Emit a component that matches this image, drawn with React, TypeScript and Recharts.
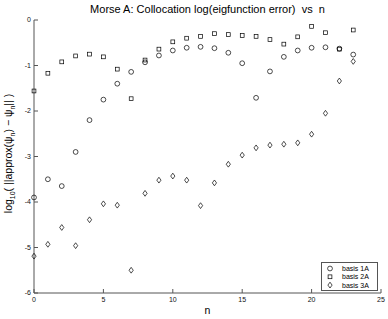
import React from "react";
import { ScatterChart, Scatter, XAxis, YAxis, Legend } from "recharts";

// n = 0..23
const nValues = [0, 1, 2, 3, 4, 5, 6, 7, 8, 9, 10, 11, 12, 13, 14, 15, 16, 17, 18, 19, 20, 21, 22, 23];

// log10 of eigenfunction error
const basis1A = [-3.9, -3.5, -3.65, -2.9, -2.2, -1.75, -1.4, -1.14, -0.93, -0.78, -0.67, -0.61, -0.59, -0.62, -0.72, -0.95, -1.71, -1.13, -0.81, -0.67, -0.61, -0.6, -0.63, -0.76];
const basis2A = [-1.56, -1.17, -0.92, -0.79, -0.75, -0.81, -1.08, -1.73, -0.88, -0.64, -0.48, -0.4, -0.36, -0.3, -0.32, -0.34, -0.36, -0.43, -0.53, -0.37, -0.14, -0.28, -0.64, -0.22];
const basis3A = [-5.19, -4.93, -4.56, -4.96, -4.39, -4.04, -4.07, -5.5, -3.81, -3.52, -3.43, -3.52, -4.08, -3.58, -3.17, -2.97, -2.81, -2.75, -2.73, -2.7, -2.51, -2.05, -1.34, -0.91];

const xTicks = [0, 5, 10, 15, 20, 25];
const yTicks = [-6, -5, -4, -3, -2, -1, 0];

const toPoints = (ys: number[]) => ys.map((v, i) => ({ n: nValues[i], err: v }));

const ink = "#000";
const axisColor = "#555";
const font = "'Liberation Sans', Arial, Helvetica, sans-serif";

const CircleMark = (p: any) => (
  <circle cx={p.cx} cy={p.cy} r={2.4} fill="none" stroke={ink} strokeWidth={0.7} />
);
const SquareMark = (p: any) => (
  <rect x={p.cx - 1.9} y={p.cy - 1.9} width={3.8} height={3.8} fill="none" stroke={ink} strokeWidth={0.7} />
);
const DiamondMark = (p: any) => (
  <path
    d={`M${p.cx},${p.cy - 2.9}L${p.cx + 2.1},${p.cy}L${p.cx},${p.cy + 2.9}L${p.cx - 2.1},${p.cy}Z`}
    fill="none"
    stroke={ink}
    strokeWidth={0.7}
  />
);

const series = [
  { name: "basis 1A", values: basis1A, Mark: CircleMark },
  { name: "basis 2A", values: basis2A, Mark: SquareMark },
  { name: "basis 3A", values: basis3A, Mark: DiamondMark },
];

function LegendBox() {
  return (
    <svg width={57} height={29} style={{ display: "block" }}>
      <rect x={0.5} y={0.5} width={56} height={28} fill="#fff" stroke={axisColor} strokeWidth={1} />
      {series.map((s, i) => {
        const cy = 6.5 + i * 8.3;
        return (
          <g key={s.name}>
            <s.Mark cx={9} cy={cy} />
            <text x={21} y={cy + 2.4} fontSize={7} fontFamily={font} fill={ink}>
              {s.name}
            </text>
          </g>
        );
      })}
    </svg>
  );
}

function YLabel(props: any) {
  const vb = props.viewBox || { x: 0, y: 20, width: 34, height: 273 };
  const cx = 12;
  const cy = vb.y + vb.height / 2 - 3;
  return (
    <text
      x={cx}
      y={cy}
      transform={`rotate(-90, ${cx}, ${cy})`}
      textAnchor="middle"
      fontSize={10.5}
      fontFamily={font}
      fill={ink}
      xmlSpace="preserve"
      style={{ whiteSpace: "pre" }}
    >
      log<tspan dy={3} fontSize={7}>10</tspan>
      <tspan dy={-3}>{"( ||approx(ψ"}</tspan>
      <tspan dy={3} fontSize={7}>n</tspan>
      <tspan dy={-3}>{") − ψ"}</tspan>
      <tspan dy={3} fontSize={7}>n</tspan>
      <tspan dy={-3}>{"|| )"}</tspan>
    </text>
  );
}

export default function App() {
  const tickStyle = { fontSize: 7, fontFamily: font, fill: "#111" };
  return (
    <div style={{ position: "absolute", left: 0, top: 0, width: 388, height: 319, background: "#fff" }}>
      <div
        style={{
          position: "absolute",
          left: 34,
          width: 347,
          top: 3,
          textAlign: "center",
          fontFamily: font,
          fontSize: 11,
          whiteSpace: "pre",
          color: ink,
        }}
      >
        Morse A: Collocation log(eigfunction error)  vs  n
      </div>
      <ScatterChart width={388} height={319} margin={{ top: 20, right: 7, bottom: 0, left: 0 }}>
        <XAxis
          type="number"
          dataKey="n"
          domain={[0, 25]}
          ticks={xTicks}
          interval={0}
          height={26}
          tickSize={-4}
          tickMargin={8}
          stroke={axisColor}
          tick={tickStyle}
          label={{ value: "n", position: "insideBottom", offset: 5, fontSize: 10.5, fontFamily: font, fill: ink }}
        />
        <XAxis
          xAxisId="top"
          orientation="top"
          type="number"
          domain={[0, 25]}
          ticks={xTicks}
          interval={0}
          height={0}
          tickSize={-4}
          tick={false}
          stroke={axisColor}
          allowDataOverflow
        />
        <YAxis
          type="number"
          dataKey="err"
          domain={[-6, 0]}
          ticks={yTicks}
          interval={0}
          width={34}
          tickSize={-4}
          tickMargin={7}
          stroke={axisColor}
          tick={tickStyle}
          label={<YLabel />}
        />
        <YAxis
          yAxisId="right"
          orientation="right"
          type="number"
          domain={[-6, 0]}
          ticks={yTicks}
          interval={0}
          width={0}
          tickSize={-4}
          tick={false}
          stroke={axisColor}
          allowDataOverflow
        />
        {series.map((s) => (
          <Scatter
            key={s.name}
            name={s.name}
            data={toPoints(s.values)}
            shape={s.Mark}
            isAnimationActive={false}
          />
        ))}
        <Legend
          layout="vertical"
          align="center"
          verticalAlign="middle"
          wrapperStyle={{ left: 321, top: 262, width: 57, height: 29 }}
          content={() => <LegendBox />}
        />
      </ScatterChart>
    </div>
  );
}
